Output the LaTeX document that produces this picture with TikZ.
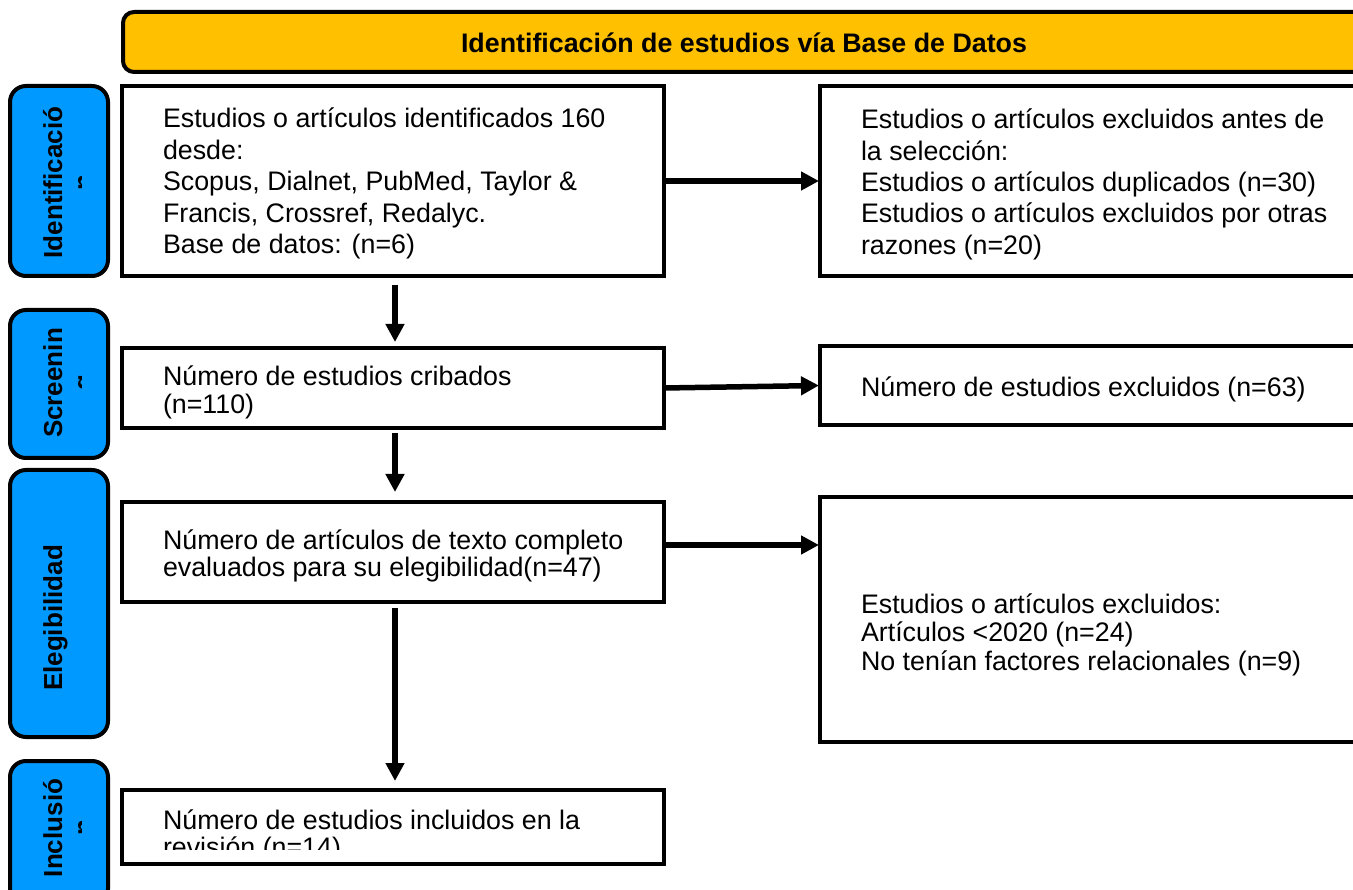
\documentclass[tikz,border=0pt]{standalone}
\usepackage{fontspec}
\setmainfont{Liberation Sans}
\usetikzlibrary{arrows.meta}
\definecolor{hdrfill}{RGB}{255,192,0}
\definecolor{sidefill}{RGB}{0,153,255}
\newcommand\txtlines[1]{\begin{tabular}[t]{@{}l@{}}#1\end{tabular}}
\newcommand\sidelines[1]{\begin{tabular}[t]{@{}c@{}}#1\end{tabular}}
\tikzset{
  stagebox/.style={draw=black, line width=4pt, fill=white, rectangle, inner sep=0pt, outer sep=0pt},
  sidebox/.style={draw=black, line width=4pt, fill=sidefill, rectangle, rounded corners=16pt, inner sep=0pt, outer sep=0pt, minimum width=98pt},
  hdrbox/.style={draw=black, line width=4pt, fill=hdrfill, rectangle, rounded corners=11pt, inner sep=0pt, outer sep=0pt},
  bodytxt/.style={anchor=base west, inner sep=0pt, outer sep=0pt},
  sidetxt/.style={anchor=base, inner sep=0pt, outer sep=0pt, rotate=90, font=\fontsize{26}{30}\selectfont\bfseries},
  arr/.style={line width=5.5pt, -{Triangle[length=18pt,width=18pt]}},
}
\begin{document}
\begin{tikzpicture}[x=1pt,y=-1pt]
\useasboundingbox (0,0) rectangle (1353,890);
\fill[white] (0,0) rectangle (1353,890);
\clip (0,0) rectangle (1353,890);

% header
\node[hdrbox, minimum width=1243pt, minimum height=60pt] (hdr) at (744.5,42) {};
\node[anchor=base, inner sep=0pt, font=\fontsize{26.8}{31}\selectfont\bfseries] (hdrtxt) at (744,52.5) {Identificación de estudios vía Base de Datos};

% side labels
\node[sidebox, minimum height=190pt] (s1) at (59,181) {};
\node[sidebox, minimum height=148pt] (s2) at (59,384) {};
\node[sidebox, minimum height=267pt] (s3) at (59,603.5) {};
\node[sidebox, minimum height=144pt] (s4) at (59,833) {};
\begin{scope}
  \clip (0,0) rectangle (81.5,890);
  \node[sidetxt] (s1t) at (62,182.5) {\sidelines{Identificació\\n}};
  \node[sidetxt] (s2t) at (62,383) {\sidelines{Screenin\\g}};
  \node[sidetxt] (s3t) at (62,618) {\sidelines{Elegibilidad}};
  \node[sidetxt] (s4t) at (62,828) {\sidelines{Inclusió\\n}};
\end{scope}

% left column boxes
\node[stagebox, minimum width=542pt, minimum height=190pt] (b1) at (393,181) {};
\node[stagebox, minimum width=542pt, minimum height=80pt] (b2) at (393,388) {};
\node[stagebox, minimum width=542pt, minimum height=100pt] (b3) at (393,552) {};
\node[stagebox, minimum width=542pt, minimum height=74pt] (b4) at (393,827) {};

% right column boxes
\node[stagebox, minimum width=546pt, minimum height=190pt] (r1) at (1093,181) {};
\node[stagebox, minimum width=546pt, minimum height=79pt] (r2) at (1093,385.5) {};
\node[stagebox, minimum width=546pt, minimum height=245pt] (r3) at (1093,619.5) {};

% texts
\node[bodytxt, font=\fontsize{26.8}{31.5}\selectfont] (b1t) at (163,128) {\txtlines{Estudios o artículos identificados 160\\desde:\\Scopus, Dialnet, PubMed, Taylor \&\\Francis, Crossref, Redalyc.\\Base de datos: (n=6)}};
\begin{scope}
  \clip (120,350) rectangle (670,419);
  \node[bodytxt, font=\fontsize{26.8}{28}\selectfont] (b2t) at (163,386) {\txtlines{Número de estudios cribados\\(n=110)}};
\end{scope}
\node[bodytxt, font=\fontsize{26.8}{27}\selectfont] (b3t) at (163,549) {\txtlines{Número de artículos de texto completo\\evaluados para su elegibilidad(n=47)}};
\begin{scope}
  \clip (120,792) rectangle (670,849.5);
  \node[bodytxt, font=\fontsize{26.8}{26.5}\selectfont] (b4t) at (163,829) {\txtlines{Número de estudios incluidos en la\\revisión (n=14)}};
\end{scope}
\node[bodytxt, font=\fontsize{26.8}{31.3}\selectfont] (r1t) at (861,129) {\txtlines{Estudios o artículos excluidos antes de\\la selección:\\Estudios o artículos duplicados (n=30)\\Estudios o artículos excluidos por otras\\razones (n=20)}};
\node[bodytxt, font=\fontsize{26.8}{31}\selectfont] (r2t) at (861,397) {Número de estudios excluidos (n=63)};
\node[bodytxt, font=\fontsize{26.8}{28.5}\selectfont] (r3t) at (861,613) {\txtlines{Estudios o artículos excluidos:\\Artículos <2020 (n=24)\\No tenían factores relacionales (n=9)}};

% arrows
\draw[arr, shorten >=1pt] (b1.east) -- (r1.west);
\draw[arr, shorten >=1pt] (b2.east) -- (r2.west);
\coordinate (a3) at ([yshift=7pt]b3.east);
\draw[arr, shorten >=1pt] (a3) -- (a3 -| r3.west);
\draw[arr, shorten <=9pt, shorten >=6pt] ([xshift=2pt]b1.south) -- ([xshift=2pt]b2.north);
\draw[arr, shorten <=5pt, shorten >=10pt] ([xshift=2pt]b2.south) -- ([xshift=2pt]b3.north);
\draw[arr, shorten <=6pt, shorten >=9pt] ([xshift=2pt]b3.south) -- ([xshift=2pt]b4.north);
\end{tikzpicture}
\end{document}
